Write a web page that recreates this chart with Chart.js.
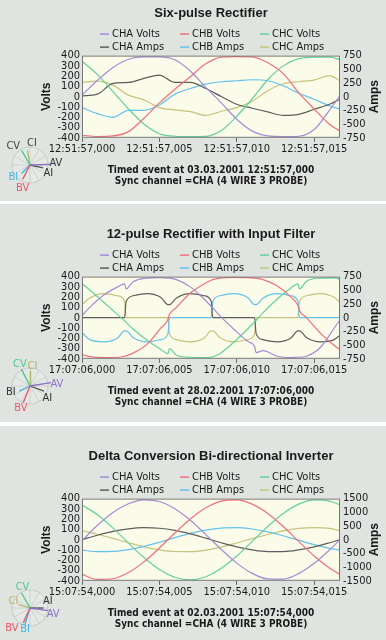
<!DOCTYPE html>
<html>
<head>
<meta charset="utf-8">
<script src="https://cdn.jsdelivr.net/npm/chart.js"></script>
<style>
  body { margin: 0; width: 386px; height: 640px; overflow: hidden; position: relative; background: #dfe4e0; }
  .panel { position: absolute; left: 0; width: 386px; height: 218px; }
  .sep { position: absolute; left: 0; width: 386px; background: #fff; }
  .phasor { position: absolute; left: -10px; top: 142px; width: 80px; height: 80px; }
</style>
</head>
<body>
<div class="panel" style="top:-17px"><canvas id="c1"></canvas><div class="phasor"><canvas id="f1"></canvas></div></div>
<div class="sep" style="top:201px;height:3px"></div>
<div class="panel" style="top:204px"><canvas id="c2"></canvas><div class="phasor"><canvas id="f2"></canvas></div></div>
<div class="sep" style="top:422px;height:4px"></div>
<div class="panel" style="top:426px"><canvas id="c3"></canvas><div class="phasor"><canvas id="f3"></canvas></div></div>
<script>
const seriesNames = ['CHA Volts', 'CHB Volts', 'CHC Volts', 'CHA Amps', 'CHB Amps', 'CHC Amps'];
const seriesColors = ['#a48cd6', '#f2707a', '#62d29e', '#5e5e5e', '#62c2ec', '#c4c47e'];
const xTickValues = [0, 5, 10, 15];

// panel 1: six-pulse rectifier
const p1Times = [0, 1, 2, 3, 4, 5, 6, 7, 8, 9, 10, 11, 12, 13, 14, 15, 16, 16.67];
const p1ChaVolts = [15, 160, 285, 365, 388, 388, 360, 250, 90, -60, -220, -335, -382, -388, -385, -320, -130, 10];
const p1ChbVolts = [-375, -388, -382, -340, -210, -60, 73, 195, 320, 385, 390, 388, 330, 225, 40, -120, -270, -335];
const p1ChcVolts = [345, 215, 50, -120, -265, -360, -385, -388, -386, -330, -190, -20, 165, 300, 370, 385, 385, 360];
const p1ChaAmps = [16, 46, 242, 260, 334, 395, 260, 260, 150, 3, -137, -211, -278, -339, -321, -229, -137, -45];
const p1ChbAmps = [-199, -309, -376, -248, -248, -150, 46, 150, 230, 273, 291, 309, 291, 199, 64, -46, -168, -229];
const p1ChcAmps = [260, 285, 211, 28, -58, -199, -241, -272, -339, -266, -199, -82, 107, 236, 273, 303, 383, 291];
const p1XLabels = ['12:51:57,000', '12:51:57,005', '12:51:57,010', '12:51:57,015'];

// panel 2: 12-pulse rectifier with input filter
const p2Times = [0, 0.5, 1.4, 2.3, 2.75, 2.85, 3.3, 4.2, 5.1, 5.55, 5.65, 6.1, 7.0, 7.9, 8.35, 8.45, 8.9, 9.8, 10.7, 11.15, 11.25, 11.7, 12.6, 13.5, 13.95, 14.05, 14.5, 15.4, 16.3, 16.67];
const p2ChaVolts = [20, 100, 220, 300, 330, 280, 350, 385, 390, 385, 385, 370, 300, 180, 110, 95, 20, -110, -230, -280, -340, -320, -375, -388, -385, -385, -375, -290, -100, -20];
const p2ChbVolts = [-360, -378, -388, -385, -375, -370, -345, -260, -100, -20, 30, 100, 240, 330, 365, 370, 385, 392, 390, 385, 385, 370, 310, 200, 120, 70, 0, -150, -270, -310];
const p2ChcVolts = [330, 270, 150, 30, -30, -45, -110, -220, -310, -350, -300, -365, -385, -388, -385, -380, -350, -240, -110, -40, -25, 50, 180, 290, 330, 280, 355, 385, 388, 375];
const p2ChaAmps = [0, 0, 0, 0, 0, 290, 400, 440, 370, 240, 240, 360, 440, 400, 300, 0, 0, 0, 0, 0, -290, -400, -440, -370, -240, -240, -360, -440, -400, -320];
const p2ChbAmps = [-270, -400, -440, -370, -240, -240, -360, -440, -400, -300, 0, 0, 0, 0, 0, 290, 400, 440, 370, 240, 240, 360, 440, 400, 300, 0, 0, 0, 0, 0];
const p2ChcAmps = [240, 360, 440, 400, 300, 0, 0, 0, 0, 0, -290, -400, -440, -370, -240, -240, -360, -440, -400, -300, 0, 0, 0, 0, 0, 290, 400, 440, 370, 280];
const p2XLabels = ['17:07:06,000', '17:07:06,005', '17:07:06,010', '17:07:06,015'];

// panel 3: delta conversion inverter
const p3Times = [0, 1, 2, 3, 4, 5, 6, 7, 8, 9, 10, 11, 12, 13, 14, 15, 16, 16.67];
const p3ChaVolts = [-10, 140, 265, 350, 388, 372, 302, 190, 50, -95, -228, -328, -382, -384, -330, -230, -98, 0];
const p3ChbVolts = [-338, -386, -380, -320, -216, -81, 65, 202, 311, 376, 388, 346, 255, 128, -16, -159, -278, -338];
const p3ChcVolts = [338, 242, 113, -33, -174, -290, -365, -390, -360, -278, -159, -16, 128, 255, 346, 388, 376, 338];
const p3ChaAmps = [0, 162, 301, 398, 439, 418, 339, 212, 55, -110, -259, -371, -432, -432, -371, -259, -110, 0];
const p3ChbAmps = [-381, -435, -429, -361, -243, -92, 73, 228, 351, 424, 438, 390, 287, 145, -18, -179, -314, -381];
const p3ChcAmps = [330, 200, 50, -110, -260, -370, -430, -435, -380, -270, -120, 40, 190, 320, 410, 440, 410, 330];
const p3XLabels = ['15:07:54,000', '15:07:54,005', '15:07:54,010', '15:07:54,015'];

// phasor dials (angle in degrees, length relative)
const phasorNames = ['AV', 'AI', 'BV', 'BI', 'CV', 'CI'];
const phasorColors = ['#8b70c8', '#555555', '#ee5566', '#46b4e4', '#4cc88c', '#b4b46a'];
const p1PhasorAngles = [2, -12, -117, -135, 120, 100];
const p1PhasorLengths = [1.0, 0.67, 0.8, 0.6, 0.83, 0.75];
const p1LabelAngles = [4, -24, -108, -143, 132, 85];
const p1LabelDists = [1.3, 1.0, 1.2, 1.05, 1.25, 1.1];
const p1LabelColors = ['#333', '#333', '#ee5566', '#46b4e4', '#444', '#444'];
const p2PhasorAngles = [9, -20, -112, -155, 117, 88];
const p2PhasorLengths = [1.05, 0.75, 0.9, 0.6, 0.95, 0.75];
const p2LabelAngles = [4, -34, -112, -163, 115, 83];
const p2LabelDists = [1.35, 1.05, 1.22, 1.0, 1.2, 1.0];
const p2LabelColors = ['#8b70c8', '#333', '#ee5566', '#333', '#4cc88c', '#b4b46a'];
const p3PhasorAngles = [-8, 0, -114, -107, 119, 164];
const p3PhasorLengths = [0.92, 0.67, 0.82, 0.87, 0.86, 0.6];
const p3LabelAngles = [-16, 21, -132, -103, 110, 157];
const p3LabelDists = [1.2, 0.95, 1.36, 1.11, 1.1, 0.9];
const p3LabelColors = ['#8b70c8', '#333', '#ee5566', '#46b4e4', '#4cc88c', '#b4b46a'];

const narrow = "'Liberation Sans Narrow', 'Arial Narrow', 'DejaVu Sans Condensed', sans-serif";
const sans = "'Liberation Sans', Arial, sans-serif";
const textColor = '#1a1a1a';

const plotFrame = {
  id: 'plotFrame',
  beforeDraw(chart) {
    const a = chart.chartArea, ctx = chart.ctx;
    ctx.save();
    ctx.fillStyle = '#fbfbe9';
    ctx.fillRect(a.left, a.top, a.right - a.left, a.bottom - a.top);
    ctx.restore();
  },
  afterDatasetsDraw(chart) {
    const a = chart.chartArea, ctx = chart.ctx;
    ctx.save();
    ctx.strokeStyle = '#777';
    ctx.lineWidth = 1;
    ctx.strokeRect(a.left + 0.5, a.top + 0.5, a.right - a.left - 1, a.bottom - a.top - 1);
    ctx.restore();
  }
};

const gridLegend = {
  id: 'gridLegend',
  afterDraw(chart) {
    const a = chart.chartArea, ctx = chart.ctx;
    ctx.save();
    ctx.font = '11px ' + narrow;
    ctx.textBaseline = 'middle';
    ctx.fillStyle = textColor;
    chart.data.datasets.forEach((ds, i) => {
      const x = a.left + 18 + (i % 3) * 80;
      const y = a.top - 22 + Math.floor(i / 3) * 13;
      ctx.strokeStyle = ds.borderColor;
      ctx.lineWidth = 1.5;
      ctx.beginPath();
      ctx.moveTo(x, y + 0.5);
      ctx.lineTo(x + 9, y + 0.5);
      ctx.stroke();
      ctx.fillText(ds.label, x + 12, y + 1);
    });
    ctx.restore();
  }
};

const axisTitles = {
  id: 'axisTitles',
  afterDraw(chart) {
    const a = chart.chartArea, ctx = chart.ctx;
    const cy = (a.top + a.bottom) / 2;
    ctx.save();
    ctx.font = 'bold 12px ' + sans;
    ctx.fillStyle = textColor;
    ctx.textAlign = 'center';
    ctx.textBaseline = 'middle';
    [[a.left - 35, 'Volts'], [a.right + 35, 'Amps']].forEach(([x, t]) => {
      ctx.save();
      ctx.translate(x, cy);
      ctx.rotate(-Math.PI / 2);
      ctx.fillText(t, 0, 0);
      ctx.restore();
    });
    ctx.restore();
  }
};

function makePanel(id, title, times, series, xLabels, ampMax, ampStep, footer) {
  const tickFont = {family: narrow, size: 11};
  new Chart(document.getElementById(id), {
    type: 'line',
    data: {
      datasets: series.map((vals, i) => ({
        label: seriesNames[i],
        data: vals.map((v, k) => ({x: times[k], y: v})),
        yAxisID: i < 3 ? 'yV' : 'yA',
        borderColor: seriesColors[i],
        borderWidth: 1.2,
        pointRadius: 0,
        cubicInterpolationMode: 'monotone',
        fill: false
      }))
    },
    options: {
      responsive: true,
      maintainAspectRatio: false,
      animation: false,
      layout: {padding: {left: 40, right: 4}},
      plugins: {
        legend: {display: false},
        tooltip: {enabled: false},
        title: {
          display: true, text: title, fullSize: false, color: textColor,
          font: {family: sans, size: 13, weight: 'bold', lineHeight: 1.2},
          padding: {top: 23, bottom: 34}
        },
        subtitle: {
          display: true, position: 'bottom', fullSize: false, text: footer, color: textColor,
          font: {family: narrow, size: 10, weight: 'bold', lineHeight: 1.1},
          padding: {top: 8, bottom: 14}
        }
      },
      scales: {
        x: {
          type: 'linear', min: 0, max: 16.67,
          afterBuildTicks: s => { s.ticks = xTickValues.map(v => ({value: v})); },
          ticks: {callback: (v, i) => xLabels[i], font: tickFont, color: textColor, padding: 1, maxRotation: 0, autoSkip: false},
          grid: {drawOnChartArea: false, tickLength: 4, color: '#666'},
          border: {display: false}
        },
        yV: {
          position: 'left', min: -400, max: 400,
          ticks: {stepSize: 100, autoSkip: false, callback: v => String(v), padding: 2, font: tickFont, color: textColor},
          grid: {drawOnChartArea: false, drawTicks: false},
          border: {display: false},
          afterFit: s => { s.width = 42; }
        },
        yA: {
          position: 'right', min: -ampMax, max: ampMax,
          ticks: {stepSize: ampStep, autoSkip: false, callback: v => String(v), padding: 3, font: tickFont, color: textColor},
          grid: {drawOnChartArea: false, drawTicks: false},
          border: {display: false},
          afterFit: s => { s.width = 42; }
        }
      }
    },
    plugins: [plotFrame, gridLegend, axisTitles]
  });
}

const phasorDial = {
  id: 'phasorDial',
  beforeDatasetsDraw(chart) {
    const sx = chart.scales.x, sy = chart.scales.y, ctx = chart.ctx;
    const cx = sx.getPixelForValue(0), cy = sy.getPixelForValue(0);
    const r = sx.getPixelForValue(0.9) - cx;
    ctx.save();
    ctx.fillStyle = 'rgba(255,255,255,0.18)';
    ctx.strokeStyle = '#c6cbc8';
    ctx.lineWidth = 1;
    ctx.beginPath();
    ctx.arc(cx, cy, r, 0, Math.PI * 2);
    ctx.fill();
    ctx.stroke();
    ctx.strokeStyle = 'rgba(190,196,192,0.6)';
    for (let k = 0; k < 12; k++) {
      const t = k * Math.PI / 6;
      ctx.beginPath();
      ctx.moveTo(cx, cy);
      ctx.lineTo(cx + r * Math.cos(t), cy - r * Math.sin(t));
      ctx.stroke();
    }
    ctx.restore();
  },
  afterDatasetsDraw(chart, args, opts) {
    const sx = chart.scales.x, sy = chart.scales.y, ctx = chart.ctx;
    ctx.save();
    ctx.font = '11px ' + narrow;
    ctx.textAlign = 'center';
    ctx.textBaseline = 'middle';
    phasorNames.forEach((n, i) => {
      const t = opts.labelAngles[i] * Math.PI / 180, d = opts.labelDists[i];
      ctx.fillStyle = opts.labelColors[i];
      ctx.fillText(n, sx.getPixelForValue(d * Math.cos(t)), sy.getPixelForValue(d * Math.sin(t)));
    });
    ctx.restore();
  }
};

function makePhasor(id, angles, lengths, labelAngles, labelDists, labelColors) {
  new Chart(document.getElementById(id), {
    type: 'scatter',
    data: {
      datasets: phasorNames.map((n, i) => {
        const t = angles[i] * Math.PI / 180;
        return {
          label: n,
          data: [{x: 0, y: 0}, {x: lengths[i] * Math.cos(t), y: lengths[i] * Math.sin(t)}],
          showLine: true, borderColor: phasorColors[i], borderWidth: 1.3, pointRadius: 0
        };
      })
    },
    options: {
      responsive: true, maintainAspectRatio: false, animation: false,
      layout: {padding: 0},
      plugins: {legend: {display: false}, tooltip: {enabled: false},
        phasorDial: {labelAngles, labelDists, labelColors}},
      scales: {
        x: {type: 'linear', min: -2, max: 2, display: false},
        y: {type: 'linear', min: -2, max: 2, display: false}
      }
    },
    plugins: [phasorDial]
  });
}

makePanel('c1', 'Six-pulse Rectifier', p1Times,
  [p1ChaVolts, p1ChbVolts, p1ChcVolts, p1ChaAmps, p1ChbAmps, p1ChcAmps], p1XLabels, 750, 250,
  ['Timed event at 03.03.2001 12:51:57,000', 'Sync channel =CHA (4 WIRE 3 PROBE)']);
makePanel('c2', '12-pulse Rectifier with Input Filter', p2Times,
  [p2ChaVolts, p2ChbVolts, p2ChcVolts, p2ChaAmps, p2ChbAmps, p2ChcAmps], p2XLabels, 750, 250,
  ['Timed event at 28.02.2001 17:07:06,000', 'Sync channel =CHA (4 WIRE 3 PROBE)']);
makePanel('c3', 'Delta Conversion Bi-directional Inverter', p3Times,
  [p3ChaVolts, p3ChbVolts, p3ChcVolts, p3ChaAmps, p3ChbAmps, p3ChcAmps], p3XLabels, 1500, 500,
  ['Timed event at 02.03.2001 15:07:54,000', 'Sync channel =CHA (4 WIRE 3 PROBE)']);

makePhasor('f1', p1PhasorAngles, p1PhasorLengths, p1LabelAngles, p1LabelDists, p1LabelColors);
makePhasor('f2', p2PhasorAngles, p2PhasorLengths, p2LabelAngles, p2LabelDists, p2LabelColors);
makePhasor('f3', p3PhasorAngles, p3PhasorLengths, p3LabelAngles, p3LabelDists, p3LabelColors);
</script>
</body>
</html>
